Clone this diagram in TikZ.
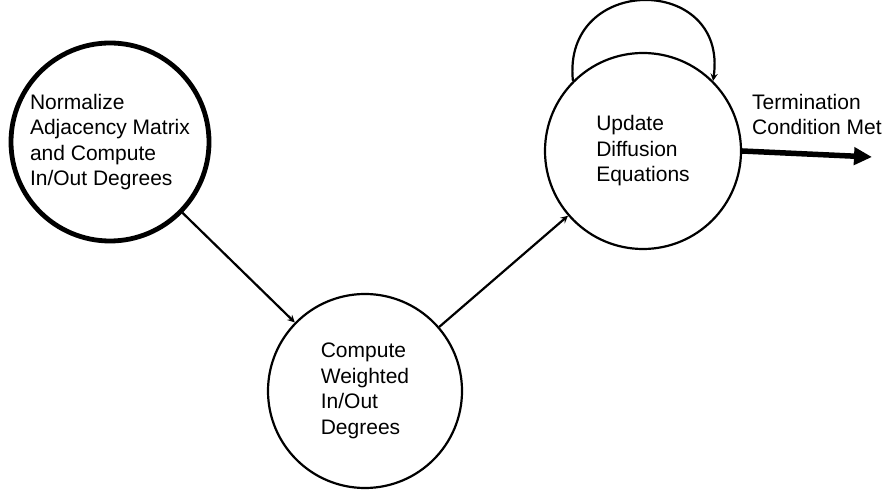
\documentclass[tikz,border=0pt]{standalone}
\usepackage{fontspec}
\setmainfont{Liberation Sans}
\usetikzlibrary{arrows.meta}
\begin{document}
\begin{tikzpicture}[x=1pt, y=1pt, line join=round, >=stealth,
	font=\fontsize{21}{25.5}\selectfont,
	state/.style={draw, circle, line width=2.2pt, inner sep=0pt, align=left},
	flow/.style={->, line width=2.2pt}]
	\useasboundingbox (0,0) rectangle (885,492);
	\node[state, line width=4.8pt, minimum size=198pt] (norm) at (110,350) {Normalize\\Adjacency Matrix\\and Compute\\In/Out Degrees};
	\node[state, minimum size=194pt] (wdeg) at (365,101) {Compute\\Weighted\\In/Out\\Degrees};
	\node[state, minimum size=196pt] (diff) at (643,341) {Update\\Diffusion\\Equations};
	\draw[flow] (norm) -- (wdeg);
	\draw[flow] (wdeg) -- (diff);
	\draw[flow] (diff.135) .. controls +(96:108) and +(82:108) .. (diff.45);
	\coordinate (term) at (872,335);
	\draw[line width=5.5pt, -{Triangle[length=18pt,width=17pt]}] (diff.east) -- (term);
	\node[anchor=north west, inner sep=0pt, align=left] (cond) at (752,398) {Termination\\Condition Met};
\end{tikzpicture}
\end{document}
